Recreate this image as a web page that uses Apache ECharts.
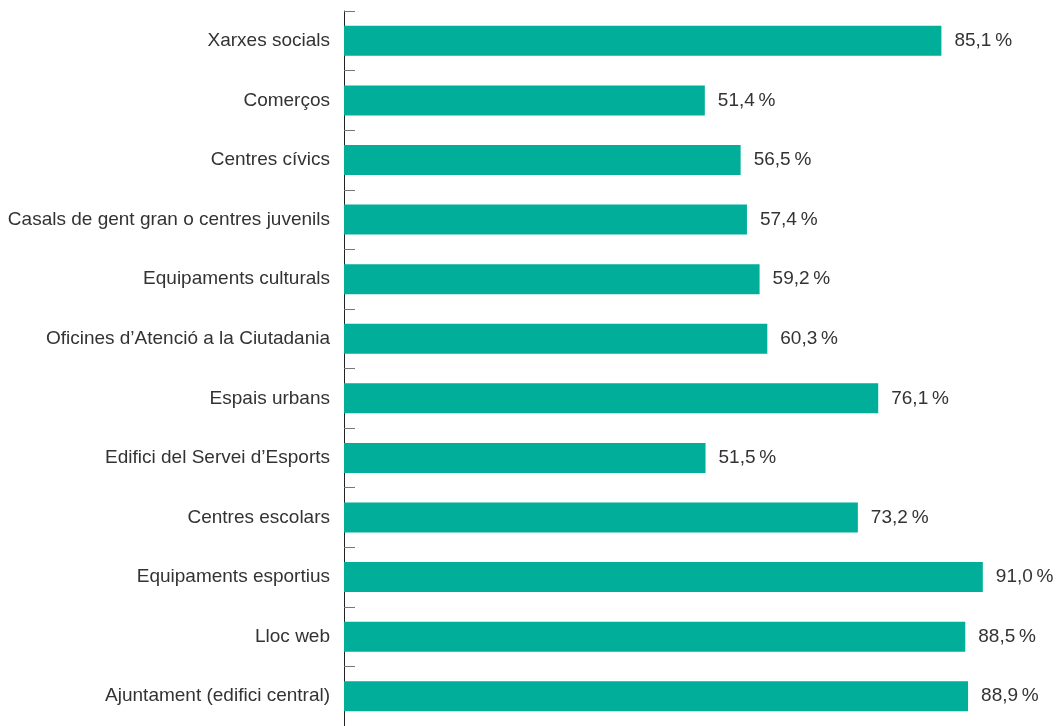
<!DOCTYPE html>
<html>
<head>
<meta charset="utf-8">
<script src="https://cdn.jsdelivr.net/npm/echarts@6/dist/echarts.min.js"></script>
<style>
  html, body { margin: 0; padding: 0; background: #fff; }
  #chart { width: 1056px; height: 726px; }
</style>
</head>
<body>
<div id="chart"></div>
<script>
// categories, top to bottom
const categories = [
  'Xarxes socials',
  'Comerços',
  'Centres cívics',
  'Casals de gent gran o centres juvenils',
  'Equipaments culturals',
  'Oficines d\u2019Atenció a la Ciutadania',
  'Espais urbans',
  'Edifici del Servei d\u2019Esports',
  'Centres escolars',
  'Equipaments esportius',
  'Lloc web',
  'Ajuntament (edifici central)'
]

// percentages
const values = [85.1, 51.4, 56.5, 57.4, 59.2, 60.3, 76.1, 51.5, 73.2, 91.0, 88.5, 88.9]

const BAR_COLOR = '#00AE99'
const TEXT_COLOR = '#333333'
const FONT = '"Liberation Sans", Arial, Helvetica, sans-serif'

const chart = echarts.init(document.getElementById('chart'))

// format like 85,1 %
const fmtPct = (v) => v.toFixed(1).replace('.', ',') + '\u2009%'

const option = {
  animation: false,
  grid: {
    left: 344,
    right: 10,
    top: 11,
    height: 720
  },
  xAxis: {
    type: 'value',
    min: 0,
    max: 100,
    show: false
  },
  yAxis: {
    type: 'category',
    inverse: true,
    data: categories,
    axisLine: {
      show: true,
      lineStyle: { color: '#222', width: 1 }
    },
    axisTick: {
      show: true,
      inside: true,
      length: 11,
      lineStyle: { color: '#777', width: 1 }
    },
    axisLabel: {
      margin: 14,
      color: TEXT_COLOR,
      fontSize: 19,
      fontFamily: FONT
    },
    splitLine: { show: false }
  },
  series: [
    {
      type: 'bar',
      data: values,
      barWidth: 30,
      itemStyle: { color: BAR_COLOR },
      label: {
        show: true,
        position: 'right',
        distance: 13,
        color: TEXT_COLOR,
        fontSize: 19,
        fontFamily: FONT,
        formatter: (p) => fmtPct(p.value)
      }
    }
  ]
}

chart.setOption(option)
</script>
</body>
</html>
